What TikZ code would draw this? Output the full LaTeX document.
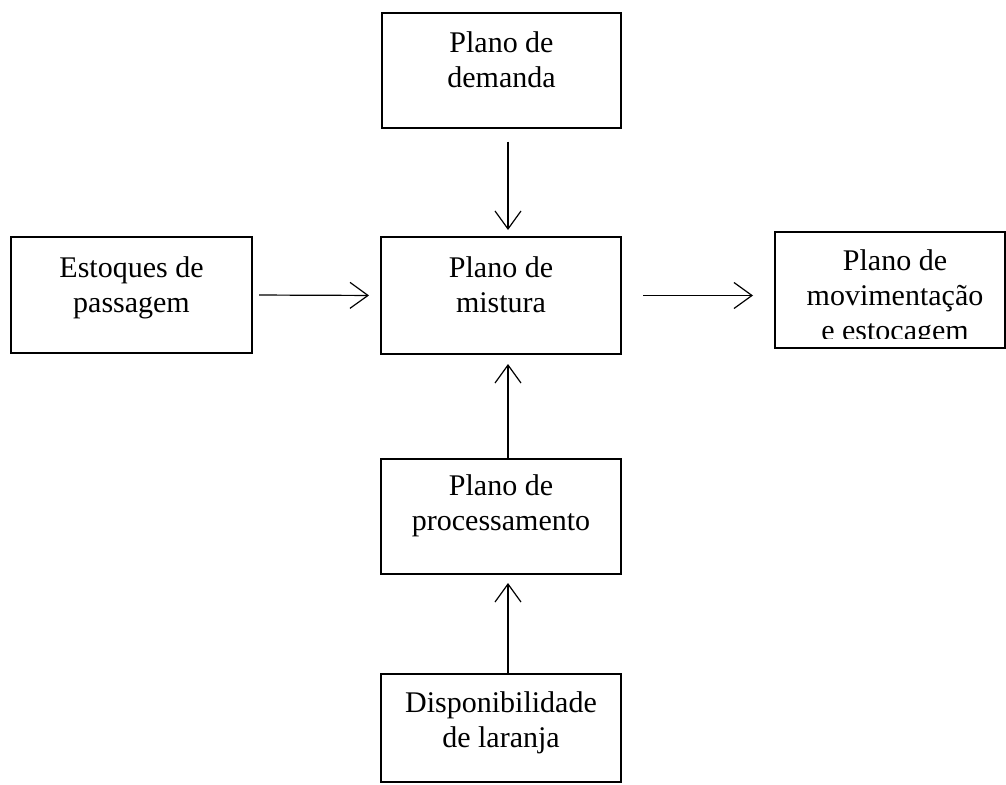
\documentclass[tikz,border=0pt]{standalone}
\usepackage{fontspec}
\setmainfont{Liberation Serif}
\usetikzlibrary{arrows.meta}
\tikzset{
  box/.style={draw, line width=1.3pt, rectangle, inner sep=0pt, outer sep=0pt, anchor=north west},
  lbl/.style={anchor=north, align=center, inner sep=0pt, font=\fontsize{30}{35}\selectfont},
  arr/.style={line width=1.2pt, -{Straight Barb[length=18pt, width=26pt, line width=1.2pt]}}
}
\begin{document}
\begin{tikzpicture}[x=1pt, y=-1pt]
\useasboundingbox (0,0) rectangle (1006,784);
% boxes
\node[box, minimum width=239pt, minimum height=115pt] (demanda) at (382,13) {};
\node[box, minimum width=241pt, minimum height=116pt] (estoques) at (11,237) {};
\node[box, minimum width=240pt, minimum height=117pt] (mistura) at (381,237) {};
\node[box, minimum width=230pt, minimum height=116pt] (movim) at (775,232) {};
\node[box, minimum width=240pt, minimum height=115pt] (proc) at (381,459) {};
\node[box, minimum width=240pt, minimum height=108pt] (disp) at (381,674) {};
% labels
\node[lbl] (tdemanda) at ([yshift=-14.5pt]demanda.north) {\strut Plano de\\demanda};
\node[lbl] (testoques) at ([yshift=-15.5pt]estoques.north) {\strut Estoques de\\passagem};
\node[lbl] (tmistura) at ([yshift=-15.5pt]mistura.north) {\strut Plano de\\mistura};
\begin{scope}
  \clip (775,232) rectangle (1005,338);
  \node[lbl] (tmovim) at ([xshift=5pt, yshift=-13.5pt]movim.north) {\strut Plano de\\movimentação\\e estocagem};
\end{scope}
\node[lbl] (tproc) at ([yshift=-11.5pt]proc.north) {\strut Plano de\\processamento};
\node[lbl] (tdisp) at ([yshift=-13.5pt]disp.north) {\strut Disponibilidade\\de laranja};
% arrows
\draw[arr, shorten <=13.7pt, shorten >=7pt] ([xshift=6.5pt]demanda.south) -- ([xshift=7pt]mistura.north);
\draw[arr, shorten <=7pt, shorten >=12pt] (estoques.east) -- (mistura.west);
\draw[arr, shorten <=22pt, shorten >=22pt] (mistura.east) -- (mistura.east -| movim.west);
\draw[arr, shorten >=10pt] ([xshift=7pt]proc.north) -- ([xshift=7pt]mistura.south);
\draw[arr, shorten >=9pt] ([xshift=7pt]disp.north) -- ([xshift=7pt]proc.south);
\end{tikzpicture}
\end{document}
